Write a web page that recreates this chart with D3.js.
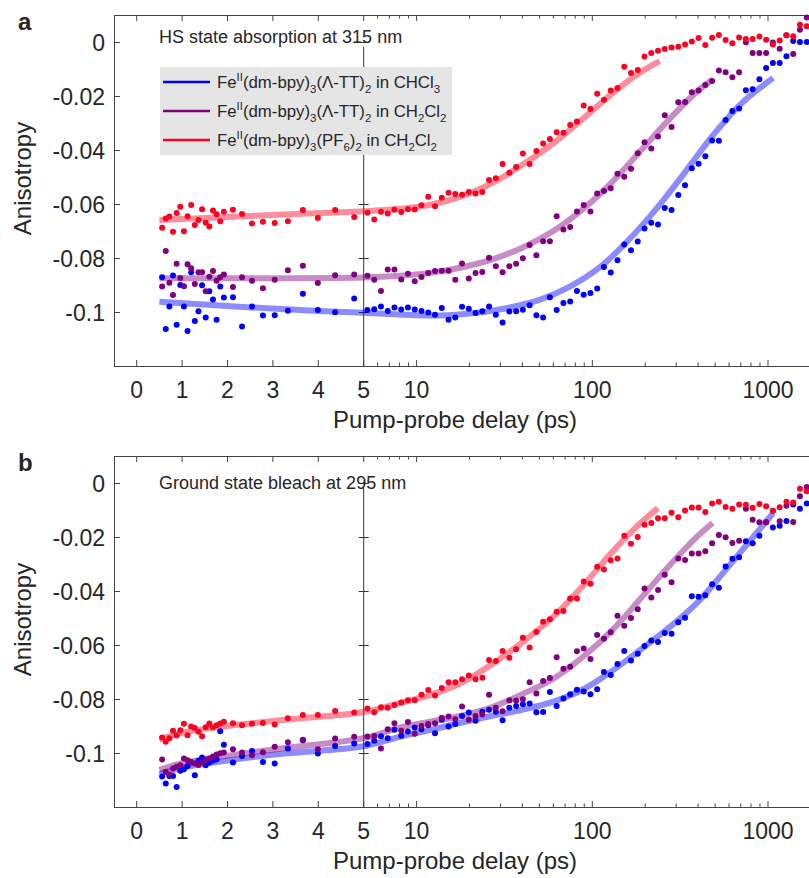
<!DOCTYPE html>
<html>
<head>
<meta charset="utf-8">
<script src="https://cdn.jsdelivr.net/npm/d3@7"></script>
<style>
body{margin:0;background:#fff;}
text{font-family:"Liberation Sans",Arial,Helvetica,sans-serif;fill:#262626;}
</style>
</head>
<body>
<div id="chart"></div>
<script>
// pump-probe delays (ps), shared by every series
var delay = [0.56,0.64,0.72,0.80,0.88,0.96,1.04,1.12,1.20,1.28,1.36,1.44,1.52,1.60,1.68,1.76,1.84,1.92,
  2.12,2.32,2.54,2.78,3.04,3.33,3.66,3.99,4.37,4.79,
  5.25,5.74,6.27,6.85,7.48,8.18,8.93,9.76,10.66,11.65,12.73,13.91,15.20,16.60,18.14,19.82,21.66,23.66,25.85,28.25,30.86,33.72,36.85,40.26,43.98,48.06,52.51,57.37,62.68,
  68.49,74.83,81.76,89.33,97.60,106.6,116.5,127.3,139.1,152.0,166.0,181.4,198.2,216.6,236.6,258.5,282.5,308.6,337.2,368.4,402.6,439.8,480.6,525.1,573.7,626.8,684.8,748.2,817.5,893.2,975.9,1066,1165,1273,1391,1520,1661];

// panel a : HS state absorption at 315 nm
var aBlue = [-0.0871,-0.1063,-0.0980,-0.0865,-0.1047,-0.0900,-0.0980,-0.1070,-0.0853,-0.1033,-0.0997,-0.0901,-0.1020,-0.0923,-0.0954,-0.1029,-0.0906,-0.0946,
  -0.0945,-0.1054,-0.0980,-0.1013,-0.1012,-0.0995,-0.0932,-0.0993,-0.1001,-0.0950,
  -0.0993,-0.0990,-0.0980,-0.0996,-0.0983,-0.0991,-0.0983,-0.0991,-0.0996,-0.1002,-0.1010,-0.0985,-0.1029,-0.1020,-0.0981,-0.0988,-0.1004,-0.0997,-0.0980,-0.1010,-0.1039,-0.0998,-0.0997,-0.0992,-0.0975,-0.1012,-0.1020,-0.0945,-0.0993,
  -0.0967,-0.0961,-0.0922,-0.0936,-0.0930,-0.0913,-0.0833,-0.0854,-0.0808,-0.0750,-0.0771,-0.0739,-0.0691,-0.0669,-0.0676,-0.0615,-0.0622,-0.0567,-0.0531,-0.0468,-0.0451,-0.0423,-0.0365,-0.0366,-0.0289,-0.0256,-0.0246,-0.0179,-0.0175,-0.0138,-0.0096,-0.0078,-0.0078,-0.0053,0.0004,0.0000,0.0000];
var aPurple = [-0.0906,-0.0774,-0.0892,-0.0937,-0.0821,-0.0874,-0.0905,-0.0823,-0.0838,-0.0896,-0.0853,-0.0853,-0.0923,-0.0869,-0.0848,-0.0884,-0.0871,-0.0861,
  -0.0907,-0.0871,-0.0884,-0.0912,-0.0881,-0.0845,-0.0829,-0.0893,-0.0864,-0.0861,
  -0.0866,-0.0881,-0.0922,-0.0843,-0.0843,-0.0880,-0.0858,-0.0886,-0.0870,-0.0856,-0.0848,-0.0847,-0.0847,-0.0881,-0.0820,-0.0876,-0.0856,-0.0852,-0.0799,-0.0831,-0.0853,-0.0831,-0.0821,-0.0801,-0.0752,-0.0790,-0.0738,-0.0738,-0.0645,
  -0.0694,-0.0685,-0.0628,-0.0604,-0.0628,-0.0561,-0.0552,-0.0542,-0.0488,-0.0499,-0.0469,-0.0412,-0.0371,-0.0394,-0.0350,-0.0271,-0.0315,-0.0223,-0.0222,-0.0186,-0.0180,-0.0159,-0.0144,-0.0106,-0.0112,-0.0131,-0.0112,-0.0001,-0.0041,-0.0041,-0.0041,-0.0002,-0.0025,0.0025,-0.0044,0.0045,0.0091];
var aRed = [-0.0688,-0.0654,-0.0646,-0.0703,-0.0633,-0.0610,-0.0701,-0.0645,-0.0604,-0.0678,-0.0659,-0.0619,-0.0669,-0.0683,-0.0624,-0.0638,-0.0664,-0.0629,
  -0.0621,-0.0637,-0.0672,-0.0666,-0.0670,-0.0664,-0.0622,-0.0652,-0.0622,-0.0648,
  -0.0632,-0.0657,-0.0629,-0.0635,-0.0621,-0.0630,-0.0619,-0.0620,-0.0605,-0.0573,-0.0608,-0.0577,-0.0558,-0.0563,-0.0566,-0.0556,-0.0561,-0.0556,-0.0511,-0.0505,-0.0452,-0.0484,-0.0463,-0.0413,-0.0452,-0.0404,-0.0376,-0.0359,-0.0334,
  -0.0336,-0.0307,-0.0294,-0.0235,-0.0248,-0.0192,-0.0214,-0.0180,-0.0170,-0.0092,-0.0115,-0.0104,-0.0054,-0.0041,-0.0032,-0.0026,-0.0020,-0.0018,-0.0009,0.0002,0.0015,-0.0011,0.0016,0.0026,0.0007,-0.0005,0.0017,0.0011,0.0011,0.0020,0.0008,-0.0009,0.0006,0.0025,0.0021,0.0064,0.0058];

// panel b : ground state bleach at 295 nm
var bBlue = [-0.1087,-0.1113,-0.1085,-0.1085,-0.1126,-0.1066,-0.1060,-0.1048,-0.1035,-0.1082,-0.1029,-0.1017,-0.1045,-0.1035,-0.1029,-0.1023,-0.0919,-0.0969,
  -0.1035,-0.1011,-0.0993,-0.1033,-0.1039,-0.0983,-0.0953,-0.1002,-0.0974,-0.0965,
  -0.0967,-0.0955,-0.0938,-0.0945,-0.0914,-0.0936,-0.0920,-0.0906,-0.0912,-0.0897,-0.0927,-0.0877,-0.0902,-0.0893,-0.0863,-0.0850,-0.0881,-0.0847,-0.0840,-0.0847,-0.0879,-0.0832,-0.0826,-0.0819,-0.0817,-0.0849,-0.0848,-0.0774,-0.0826,
  -0.0798,-0.0782,-0.0766,-0.0772,-0.0782,-0.0764,-0.0700,-0.0711,-0.0670,-0.0622,-0.0657,-0.0632,-0.0604,-0.0583,-0.0589,-0.0556,-0.0558,-0.0516,-0.0499,-0.0419,-0.0421,-0.0416,-0.0375,-0.0388,-0.0309,-0.0281,-0.0275,-0.0216,-0.0223,-0.0195,-0.0145,-0.0165,-0.0158,-0.0141,-0.0080,-0.0095,-0.0076];
var bPurple = [-0.1024,-0.1069,-0.1081,-0.1057,-0.1051,-0.1045,-0.1020,-0.1027,-0.1033,-0.1039,-0.1044,-0.1035,-0.1025,-0.1020,-0.1013,-0.1006,-0.1001,-0.0998,
  -0.0986,-0.0998,-0.1008,-0.0997,-0.0977,-0.0960,-0.0951,-0.0986,-0.0946,-0.0940,
  -0.0939,-0.0937,-0.0983,-0.0912,-0.0890,-0.0918,-0.0885,-0.0929,-0.0900,-0.0893,-0.0890,-0.0869,-0.0865,-0.0875,-0.0828,-0.0877,-0.0863,-0.0857,-0.0784,-0.0832,-0.0845,-0.0805,-0.0806,-0.0801,-0.0738,-0.0780,-0.0733,-0.0722,-0.0645,
  -0.0688,-0.0681,-0.0623,-0.0613,-0.0652,-0.0563,-0.0577,-0.0553,-0.0492,-0.0529,-0.0500,-0.0468,-0.0391,-0.0424,-0.0396,-0.0340,-0.0368,-0.0280,-0.0285,-0.0261,-0.0261,-0.0253,-0.0223,-0.0193,-0.0201,-0.0222,-0.0214,-0.0095,-0.0136,-0.0145,-0.0145,-0.0103,-0.0142,-0.0084,-0.0144,-0.0049,-0.0015];
var bRed = [-0.0943,-0.0958,-0.0945,-0.0918,-0.0935,-0.0916,-0.0892,-0.0934,-0.0902,-0.0907,-0.0921,-0.0938,-0.0905,-0.0891,-0.0905,-0.0897,-0.0891,-0.0884,
  -0.0890,-0.0897,-0.0892,-0.0889,-0.0894,-0.0871,-0.0859,-0.0859,-0.0844,-0.0850,
  -0.0835,-0.0849,-0.0831,-0.0832,-0.0822,-0.0813,-0.0805,-0.0805,-0.0784,-0.0767,-0.0787,-0.0759,-0.0738,-0.0738,-0.0727,-0.0713,-0.0727,-0.0721,-0.0656,-0.0659,-0.0622,-0.0647,-0.0616,-0.0573,-0.0609,-0.0552,-0.0514,-0.0505,-0.0477,
  -0.0474,-0.0428,-0.0428,-0.0365,-0.0373,-0.0310,-0.0320,-0.0286,-0.0280,-0.0195,-0.0225,-0.0200,-0.0155,-0.0148,-0.0131,-0.0131,-0.0110,-0.0127,-0.0102,-0.0091,-0.0091,-0.0107,-0.0076,-0.0069,-0.0089,-0.0095,-0.0080,-0.0081,-0.0092,-0.0078,-0.0086,-0.0103,-0.0090,-0.0069,-0.0072,-0.0021,-0.0031];

// fitted curves, [delay, anisotropy]
var fitABlue = [[0.5,-0.0962],[2,-0.0978],[3.5,-0.0992],[5,-0.1003],[10,-0.1012],[15,-0.1012],[22,-0.1003],[33,-0.0985],[50,-0.0955],[75,-0.0905],[110,-0.0835],[160,-0.0735],[230,-0.0620],[330,-0.0490],[480,-0.0350],[700,-0.0230],[1070,-0.0133]];
var fitAPurple = [[0.5,-0.0875],[5,-0.0872],[8,-0.0866],[12,-0.0855],[18,-0.0835],[27,-0.0805],[40,-0.0762],[60,-0.0700],[90,-0.0615],[130,-0.0518],[190,-0.0400],[280,-0.0280],[400,-0.0180],[484,-0.0140]];
var fitARed = [[0.5,-0.0659],[2,-0.0648],[3.5,-0.0637],[5,-0.0627],[8,-0.0618],[12,-0.0603],[18,-0.0572],[27,-0.0522],[40,-0.0455],[60,-0.0375],[90,-0.0280],[130,-0.0190],[180,-0.0120],[242,-0.0071]];
var fitBBlue = [[0.5,-0.1078],[1,-0.1055],[2,-0.1028],[3.2,-0.1003],[5,-0.0975],[8,-0.0940],[12,-0.0915],[18,-0.0887],[27,-0.0862],[40,-0.0840],[60,-0.0810],[90,-0.0762],[130,-0.0695],[190,-0.0615],[280,-0.0530],[400,-0.0440],[560,-0.0330],[800,-0.0210],[1070,-0.0111]];
var fitBPurple = [[0.5,-0.1062],[1,-0.1038],[2,-0.1010],[3.2,-0.0983],[5,-0.0945],[8,-0.0906],[12,-0.0884],[18,-0.0862],[27,-0.0830],[40,-0.0782],[60,-0.0725],[90,-0.0640],[130,-0.0545],[190,-0.0425],[280,-0.0300],[400,-0.0195],[484,-0.0148]];
var fitBRed = [[0.5,-0.0951],[1,-0.0925],[2,-0.0900],[3.2,-0.0878],[5,-0.0848],[8,-0.0815],[12,-0.0785],[18,-0.0740],[27,-0.0670],[40,-0.0590],[60,-0.0495],[90,-0.0375],[130,-0.0255],[180,-0.0160],[236,-0.0093]];

var colors = ["#0000ff","#800080","#ff0022"];
var linTicks = [0,1,2,3,4,5];
var logTicks = [10,100,1000];
var logMinor = [6,7,8,9,20,30,40,50,60,70,80,90,200,300,400,500,600,700,800,900];
var yTicks = [0,-0.02,-0.04,-0.06,-0.08,-0.1];
var yTickLabels = ["0","-0.02","-0.04","-0.06","-0.08","-0.1"];
// legend: [text, 0 normal / 1 super / -1 sub]
var legendRows = [
  [["Fe",0],["II",1],["(dm-bpy)",0],["3",-1],["(\u039B-TT)",0],["2",-1],[" in CHCl",0],["3",-1]],
  [["Fe",0],["II",1],["(dm-bpy)",0],["3",-1],["(\u039B-TT)",0],["2",-1],[" in CH",0],["2",-1],["Cl",0],["2",-1]],
  [["Fe",0],["II",1],["(dm-bpy)",0],["3",-1],["(PF",0],["6",-1],[")",0],["2",-1],[" in CH",0],["2",-1],["Cl",0],["2",-1]]
];

var W = 809, H = 878;
var svg = d3.select("#chart").append("svg").attr("width",W).attr("height",H);
svg.append("rect").attr("width",W).attr("height",H).attr("fill","#fff");

var left = 114, right = 809, split = 363.7;
var xLin = d3.scaleLinear().domain([-0.5,5]).range([left,split]);
var xLog = d3.scaleLog().domain([5,1711]).range([split,right]);
function X(t){ return t <= 5 ? xLin(t) : xLog(t); }

function richText(g, x, y, parts, size){
  var t = g.append("text").attr("x",x).attr("y",y).style("font-size",size+"px");
  var shift = 0;
  parts.forEach(function(p){
    var target = p[1] == 1 ? -0.42*size : (p[1] == -1 ? 0.28*size : 0);
    t.append("tspan").attr("dy",target-shift)
      .style("font-size",(p[1] ? size*0.68 : size)+"px").text(p[0]);
    shift = target;
  });
  return t;
}

function panel(top, label, title, titleY, series, fits, legend){
  var bottom = top + 351;
  var y = d3.scaleLinear().domain([-0.12,0.01]).range([bottom,top]);
  var g = svg.append("g");
  var axisCol = "#444";

  // box (right side is cut by the page)
  g.append("line").attr("x1",left).attr("x2",right).attr("y1",top+0.5).attr("y2",top+0.5).attr("stroke",axisCol);
  g.append("line").attr("x1",left).attr("x2",right).attr("y1",bottom+0.5).attr("y2",bottom+0.5).attr("stroke",axisCol);
  g.append("line").attr("x1",left+0.5).attr("x2",left+0.5).attr("y1",top).attr("y2",bottom).attr("stroke",axisCol);
  // break between linear and log parts
  g.append("line").attr("x1",split).attr("x2",split).attr("y1",top+32).attr("y2",bottom)
    .attr("stroke","#333").attr("stroke-width",1);

  // x ticks, inward, top and bottom
  var major = linTicks.map(function(d){return X(d);}).concat(logTicks.map(function(d){return X(d);}));
  var minor = logMinor.map(function(d){return X(d);});
  [[major,6],[minor,3.5]].forEach(function(set){
    set[0].forEach(function(px){
      g.append("line").attr("x1",px).attr("x2",px).attr("y1",bottom).attr("y2",bottom-set[1]).attr("stroke",axisCol);
      g.append("line").attr("x1",px).attr("x2",px).attr("y1",top).attr("y2",top+set[1]).attr("stroke",axisCol);
    });
  });
  linTicks.concat(logTicks).forEach(function(d){
    g.append("text").attr("x",X(d)).attr("y",bottom+32).attr("text-anchor","middle").style("font-size","23px").text(d);
  });

  // y ticks
  yTicks.forEach(function(d,i){
    var py = Math.round(y(d))+0.5;
    g.append("line").attr("x1",left).attr("x2",left+6).attr("y1",py).attr("y2",py).attr("stroke",axisCol);
    g.append("line").attr("x1",split-5).attr("x2",split+5).attr("y1",py).attr("y2",py).attr("stroke","#333");
    g.append("text").attr("x",105).attr("y",py+8).attr("text-anchor","end").style("font-size","23px").text(yTickLabels[i]);
  });

  g.append("text").attr("transform","translate(31,"+(top+163.5)+")rotate(-90)")
    .attr("text-anchor","middle").style("font-size","24px").text("Anisotropy");
  g.append("text").attr("x",455).attr("y",bottom+62).attr("text-anchor","middle")
    .style("font-size","24px").text("Pump-probe delay (ps)");
  g.append("text").attr("x",18).attr("y",top+15).style("font-size","24px").style("font-weight","bold").text(label);

  // fits under the markers
  var line = d3.line().x(function(d){return X(d[0]);}).y(function(d){return y(d[1]);}).curve(d3.curveCatmullRom.alpha(0.5));
  fits.forEach(function(f,i){
    g.append("path").attr("d",line(f)).attr("fill","none").attr("stroke",colors[i])
      .attr("stroke-opacity",0.45).attr("stroke-width",6);
  });
  series.forEach(function(s,i){
    g.append("g").selectAll("circle").data(delay.map(function(t,k){return [t,s[k]];}))
      .enter().append("circle")
      .attr("cx",function(d){return X(d[0]);})
      .attr("cy",function(d){return y(d[1]);})
      .attr("r",3).attr("fill",colors[i]);
  });

  g.append("text").attr("x",159).attr("y",titleY).style("font-size","18px").text(title);

  if(legend){
    g.append("rect").attr("x",160).attr("y",67).attr("width",292).attr("height",88).attr("fill","#e5e5e5");
    legendRows.forEach(function(r,i){
      var ly = 82 + i*29;
      g.append("line").attr("x1",163).attr("x2",210).attr("y1",ly).attr("y2",ly)
        .attr("stroke",colors[i]).attr("stroke-width",2.5);
      richText(g, 217, ly+6, r, 16.8);
    });
  }
}

panel(15, "a", "HS state absorption at 315 nm", 43.3, [aBlue,aPurple,aRed], [fitABlue,fitAPurple,fitARed], true);
panel(456, "b", "Ground state bleach at 295 nm", 489.3, [bBlue,bPurple,bRed], [fitBBlue,fitBPurple,fitBRed], false);
</script>
</body>
</html>
